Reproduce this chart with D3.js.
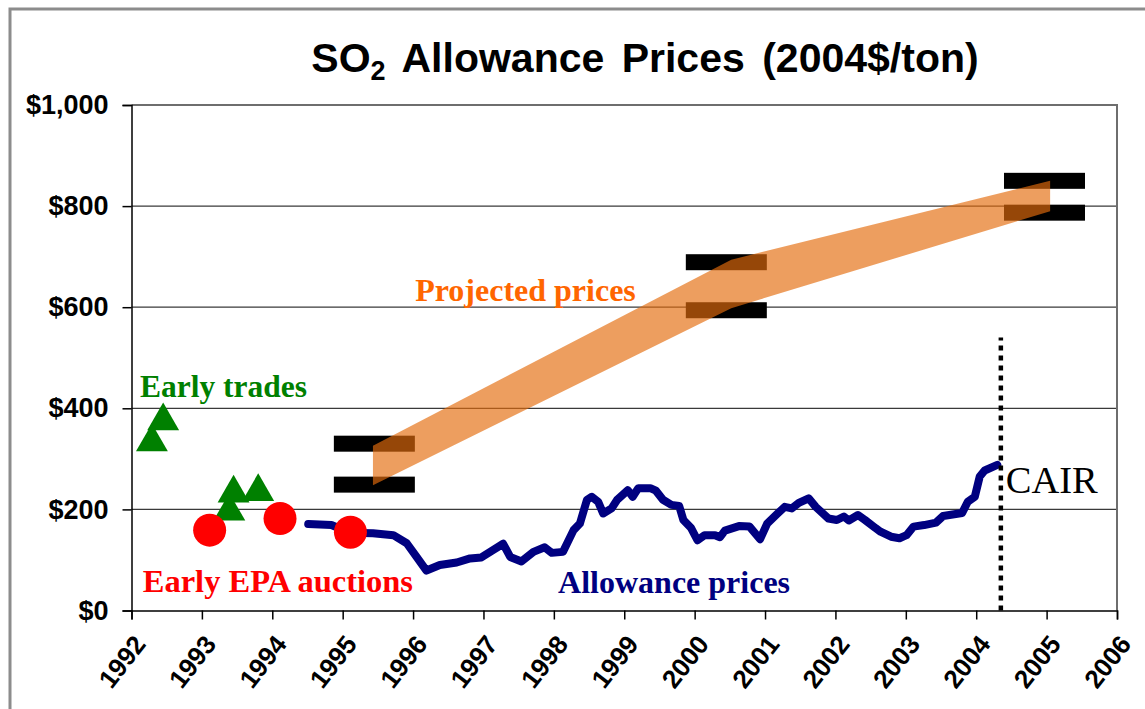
<!DOCTYPE html>
<html>
<head>
<meta charset="utf-8">
<script src="https://cdn.jsdelivr.net/npm/d3@7"></script>
<style>
  body { margin: 0; background: #fff; }
  svg { display: block; }
</style>
</head>
<body>
<script>
// ---- data ----
const yearTicks = [1992, 1993, 1994, 1995, 1996, 1997, 1998, 1999, 2000, 2001, 2002, 2003, 2004, 2005, 2006];
const priceTicks = [0, 200, 400, 600, 800, 1000];

// monthly-ish allowance prices (2004$/ton)
const priceDates = [1994.51, 1994.84, 1995.10, 1995.43, 1995.72, 1995.91, 1996.05, 1996.19, 1996.38, 1996.62,
  1996.81, 1996.97, 1997.14, 1997.28, 1997.38, 1997.54, 1997.71, 1997.87, 1997.97, 1998.13,
  1998.28, 1998.37, 1998.47, 1998.54, 1998.63, 1998.70, 1998.82, 1998.90, 1999.05, 1999.12,
  1999.20, 1999.37, 1999.45, 1999.55, 1999.67, 1999.78, 1999.84, 1999.95, 2000.04, 2000.14,
  2000.29, 2000.36, 2000.43, 2000.63, 2000.78, 2000.93, 2001.03, 2001.18, 2001.28, 2001.38,
  2001.48, 2001.62, 2001.72, 2001.90, 2002.02, 2002.12, 2002.19, 2002.32, 2002.42, 2002.57,
  2002.64, 2002.79, 2002.91, 2003.01, 2003.11, 2003.26, 2003.43, 2003.53, 2003.80, 2003.88,
  2003.98, 2004.05, 2004.12, 2004.30];
const priceValues = [171, 169, 154, 153, 149, 133, 106, 79, 90, 95,
  103, 105, 120, 132, 106, 97, 116, 125, 114, 116,
  159, 172, 219, 225, 215, 192, 202, 219, 238, 225,
  242, 242, 237, 219, 209, 207, 179, 163, 139, 149,
  149, 145, 158, 167, 166, 141, 172, 192, 205, 202,
  213, 222, 205, 182, 179, 186, 178, 189, 179, 163,
  156, 146, 143, 149, 166, 169, 174, 187, 193, 215,
  225, 265, 277, 288];

// early trades (green triangles)
const tradeDates = [1992.29, 1992.45, 1993.39, 1993.45, 1993.80];
const tradeValues = [333, 375, 196, 232, 235];

// early EPA auctions (red dots)
const auctionDates = [1993.11, 1994.11, 1995.11];
const auctionValues = [159, 182, 155];

// projection ranges (black bars)
const projDates = [1995.45, 2000.45, 2004.97];
const projLow = [249, 594, 787];
const projHigh = [330, 689, 850];

// projected price band (orange)
const bandDates = [1995.43, 2000.52, 2005.05];
const bandLow = [248, 598, 790];
const bandHigh = [326, 694, 850];

// CAIR marker
const cairDate = 2004.35;
const cairTop = 540;

// ---- layout ----
const W = 1145, H = 709;
const plot = { left: 131.5, right: 1117, top: 105, bottom: 610.5 };

const svg = d3.select('body').append('svg')
  .attr('width', W)
  .attr('height', H);

const x = d3.scaleLinear().domain([1992, 2006]).range([plot.left, plot.right]);
const y = d3.scaleLinear().domain([0, 1000]).range([plot.bottom, plot.top]);

const sans = 'Liberation Sans, Arial, sans-serif';
const serif = 'Liberation Serif, Times New Roman, serif';

// outer frame
svg.append('rect')
  .attr('x', 10).attr('y', 9)
  .attr('width', 1200).attr('height', 800)
  .attr('fill', 'none')
  .attr('stroke', '#8c8c8c')
  .attr('stroke-width', 3);

// title
const title = svg.append('text')
  .attr('x', 645).attr('y', 72)
  .attr('text-anchor', 'middle')
  .style('font-family', sans)
  .style('font-weight', 'bold')
  .style('font-size', '41px')
  .style('word-spacing', '6px');
title.append('tspan').text('SO');
title.append('tspan').attr('dy', 8).style('font-size', '27px').text('2');
title.append('tspan').attr('dy', -8).text(' Allowance Prices (2004$/ton)');

// gridlines
svg.append('g')
  .selectAll('line')
  .data(priceTicks.filter(d => d > 0 && d < 1000))
  .join('line')
  .attr('x1', plot.left).attr('x2', plot.right)
  .attr('y1', d => y(d)).attr('y2', d => y(d))
  .attr('stroke', '#3a3a3a')
  .attr('stroke-width', 1.3);

// top + right border of plot area
svg.append('path')
  .attr('d', `M${plot.left},${plot.top}H${plot.right}V${plot.bottom}`)
  .attr('fill', 'none')
  .attr('stroke', '#6e6e6e')
  .attr('stroke-width', 2);

// axes
const yAxis = d3.axisLeft(y)
  .tickValues(priceTicks)
  .tickSize(9)
  .tickPadding(14)
  .tickFormat(d => '$' + d3.format(',')(d));
const gy = svg.append('g')
  .attr('transform', `translate(${plot.left},0)`)
  .call(yAxis);
gy.select('.domain').attr('stroke', '#000').attr('stroke-width', 1.5);
gy.selectAll('.tick line').attr('stroke', '#000').attr('stroke-width', 1.5);
gy.selectAll('.tick text')
  .attr('fill', '#000')
  .style('font-family', sans)
  .style('font-weight', 'bold')
  .style('font-size', '27px');

const xAxis = d3.axisBottom(x)
  .tickValues(yearTicks)
  .tickSize(9)
  .tickFormat(d3.format('d'));
const gx = svg.append('g')
  .attr('transform', `translate(0,${plot.bottom})`)
  .call(xAxis);
gx.select('.domain').attr('stroke', '#000').attr('stroke-width', 1.5);
gx.selectAll('.tick line').attr('stroke', '#000').attr('stroke-width', 1.5);
gx.selectAll('.tick text')
  .attr('fill', '#000')
  .attr('text-anchor', 'end')
  .attr('x', 0).attr('y', 0).attr('dy', 0)
  .attr('transform', 'translate(15,34) rotate(-52)')
  .style('font-family', sans)
  .style('font-weight', 'bold')
  .style('font-size', '26px');

// projection bars
const barW = 81, barH = 16;
const bars = svg.append('g');
projDates.forEach((d, i) => {
  [projLow[i], projHigh[i]].forEach(v => {
    bars.append('rect')
      .attr('x', x(d) - barW / 2)
      .attr('y', y(v) - barH / 2)
      .attr('width', barW)
      .attr('height', barH)
      .attr('fill', '#000');
  });
});

// projected band
const band = d3.area()
  .x(d => x(d.t))
  .y0(d => y(d.lo))
  .y1(d => y(d.hi));
svg.append('path')
  .datum(bandDates.map((t, i) => ({ t, lo: bandLow[i], hi: bandHigh[i] })))
  .attr('d', band)
  .attr('fill', 'rgb(228,108,12)')
  .attr('fill-opacity', 0.66);

// allowance price line
const line = d3.line()
  .x(d => x(d[0]))
  .y(d => y(d[1]));
svg.append('path')
  .datum(priceDates.map((t, i) => [t, priceValues[i]]))
  .attr('d', line)
  .attr('fill', 'none')
  .attr('stroke', '#000080')
  .attr('stroke-width', 8)
  .attr('stroke-linejoin', 'round')
  .attr('stroke-linecap', 'round');

// CAIR dotted line
svg.append('line')
  .attr('x1', x(cairDate)).attr('x2', x(cairDate))
  .attr('y1', y(0)).attr('y2', y(cairTop))
  .attr('stroke', '#000')
  .attr('stroke-width', 4.5)
  .attr('stroke-dasharray', '5,5');

// early trades
const tri = d3.symbol().type(d3.symbolTriangle).size(440);
svg.append('g')
  .selectAll('path')
  .data(tradeDates.map((t, i) => [t, tradeValues[i]]))
  .join('path')
  .attr('d', tri)
  .attr('transform', d => `translate(${x(d[0])},${y(d[1])})`)
  .attr('fill', '#008000');

// early auctions
svg.append('g')
  .selectAll('circle')
  .data(auctionDates.map((t, i) => [t, auctionValues[i]]))
  .join('circle')
  .attr('cx', d => x(d[0]))
  .attr('cy', d => y(d[1]))
  .attr('r', 16.5)
  .attr('fill', '#ff0000');

// annotations
const notes = [
  { text: 'Early trades', t: 1992.12, v: 422, color: '#008000', weight: 'bold', size: 31.5 },
  { text: 'Early EPA auctions', t: 1992.16, v: 37, color: '#ff0000', weight: 'bold', size: 32.5 },
  { text: 'Projected prices', t: 1996.03, v: 612, color: '#ff6600', weight: 'bold', size: 32 },
  { text: 'Allowance prices', t: 1998.06, v: 35, color: '#000080', weight: 'bold', size: 32 },
  { text: 'CAIR', t: 2004.42, v: 232, color: '#000', weight: 'normal', size: 38.5 }
];
svg.append('g')
  .selectAll('text')
  .data(notes)
  .join('text')
  .attr('x', d => x(d.t))
  .attr('y', d => y(d.v))
  .attr('fill', d => d.color)
  .style('font-family', serif)
  .style('font-weight', d => d.weight)
  .style('font-size', d => d.size + 'px')
  .text(d => d.text);
</script>
</body>
</html>
